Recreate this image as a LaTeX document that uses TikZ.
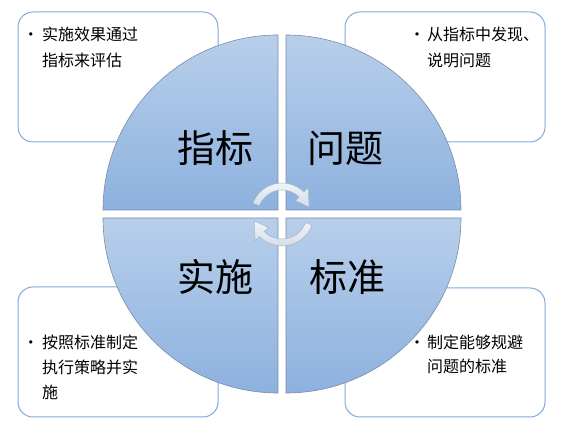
\documentclass[tikz,border=0pt]{standalone}
\usepackage{fontspec}
\newfontfamily\cjk{Noto Sans CJK SC}
\definecolor{boxline}{HTML}{7FAADF}
\definecolor{qtop}{HTML}{B8CFEB}
\definecolor{qbot}{HTML}{8DB1DE}
\definecolor{qline}{HTML}{7A8CAA}
\definecolor{arrtop}{HTML}{F2F5FA}
\definecolor{arrbot}{HTML}{D3DCE8}
\definecolor{arrline}{HTML}{A3B1C4}
\tikzset{
  infobox/.style={draw=boxline, line width=1pt, fill=white, rounded corners=15pt},
  quad/.style={draw=qline, line width=0.6pt, top color=qtop, bottom color=qbot},
  txt/.style={anchor=base west, inner sep=0pt, font=\cjk\fontsize{16}{20}\selectfont},
  bul/.style={anchor=base, inner sep=0pt, font=\cjk\fontsize{16}{20}\selectfont},
  big/.style={inner sep=0pt, font=\cjk\fontsize{38}{44}\selectfont},
  cyc/.style={top color=arrtop, bottom color=arrbot, draw=arrline, line width=0.5pt}
}
\begin{document}
\begin{tikzpicture}[x=1pt,y=1pt]
\useasboundingbox (0,0) rectangle (563,-435);
% corner boxes
\draw[infobox] (18,-12) rectangle (218,-142);
\draw[infobox] (345,-12) rectangle (545,-142);
\draw[infobox] (18,-287) rectangle (218,-417);
\draw[infobox] (345,-288) rectangle (545,-417);
% box texts
\node[bul] (b1) at (31,-41) {•};
\node[txt] (t11) at (42,-41) {实施效果通过};
\node[txt] (t12) at (42,-67) {指标来评估};
\node[bul] (b2) at (417,-41) {•};
\node[txt] (t21) at (427,-41) {从指标中发现、};
\node[txt] (t22) at (427,-67) {说明问题};
\node[bul] (b3) at (31,-349) {•};
\node[txt] (t31) at (42,-349) {按照标准制定};
\node[txt] (t32) at (42,-374) {执行策略并实};
\node[txt] (t33) at (42,-399) {施};
\node[bul] (b4) at (417,-349) {•};
\node[txt] (t41) at (427,-349) {制定能够规避};
\node[txt] (t42) at (427,-373) {问题的标准};
% quadrants
\draw[quad] (278,-210) -- ++(-175,0) arc[start angle=180,end angle=90,radius=175] -- cycle;
\draw[quad] (286,-210) -- ++(0,175) arc[start angle=90,end angle=0,radius=175] -- cycle;
\draw[quad] (278,-218) -- ++(-175,0) arc[start angle=180,end angle=270,radius=175] -- cycle;
\draw[quad] (286,-218) -- ++(175,0) arc[start angle=0,end angle=-90,radius=175] -- cycle;
% big labels
\node[big] (q1) at (215,-148) {指标};
\node[big] (q2) at (345,-148) {问题};
\node[big] (q3) at (215,-277) {实施};
\node[big] (q4) at (347,-277) {标准};
% cycle arrows
\begin{scope}[shift={(282,-214)}]
\draw[cyc] (160:31) arc[start angle=160,end angle=45,radius=31]
  -- (45:37) -- (14:28) -- (45:19) -- (45:24)
  arc[start angle=45,end angle=160,radius=24] -- cycle;
\draw[cyc] (-20:32) arc[start angle=-20,end angle=-135,radius=32]
  -- (-135:38) -- (-166:28.5) -- (-135:19) -- (-135:25)
  arc[start angle=-135,end angle=-20,radius=25] -- cycle;
\end{scope}
\end{tikzpicture}
\end{document}
